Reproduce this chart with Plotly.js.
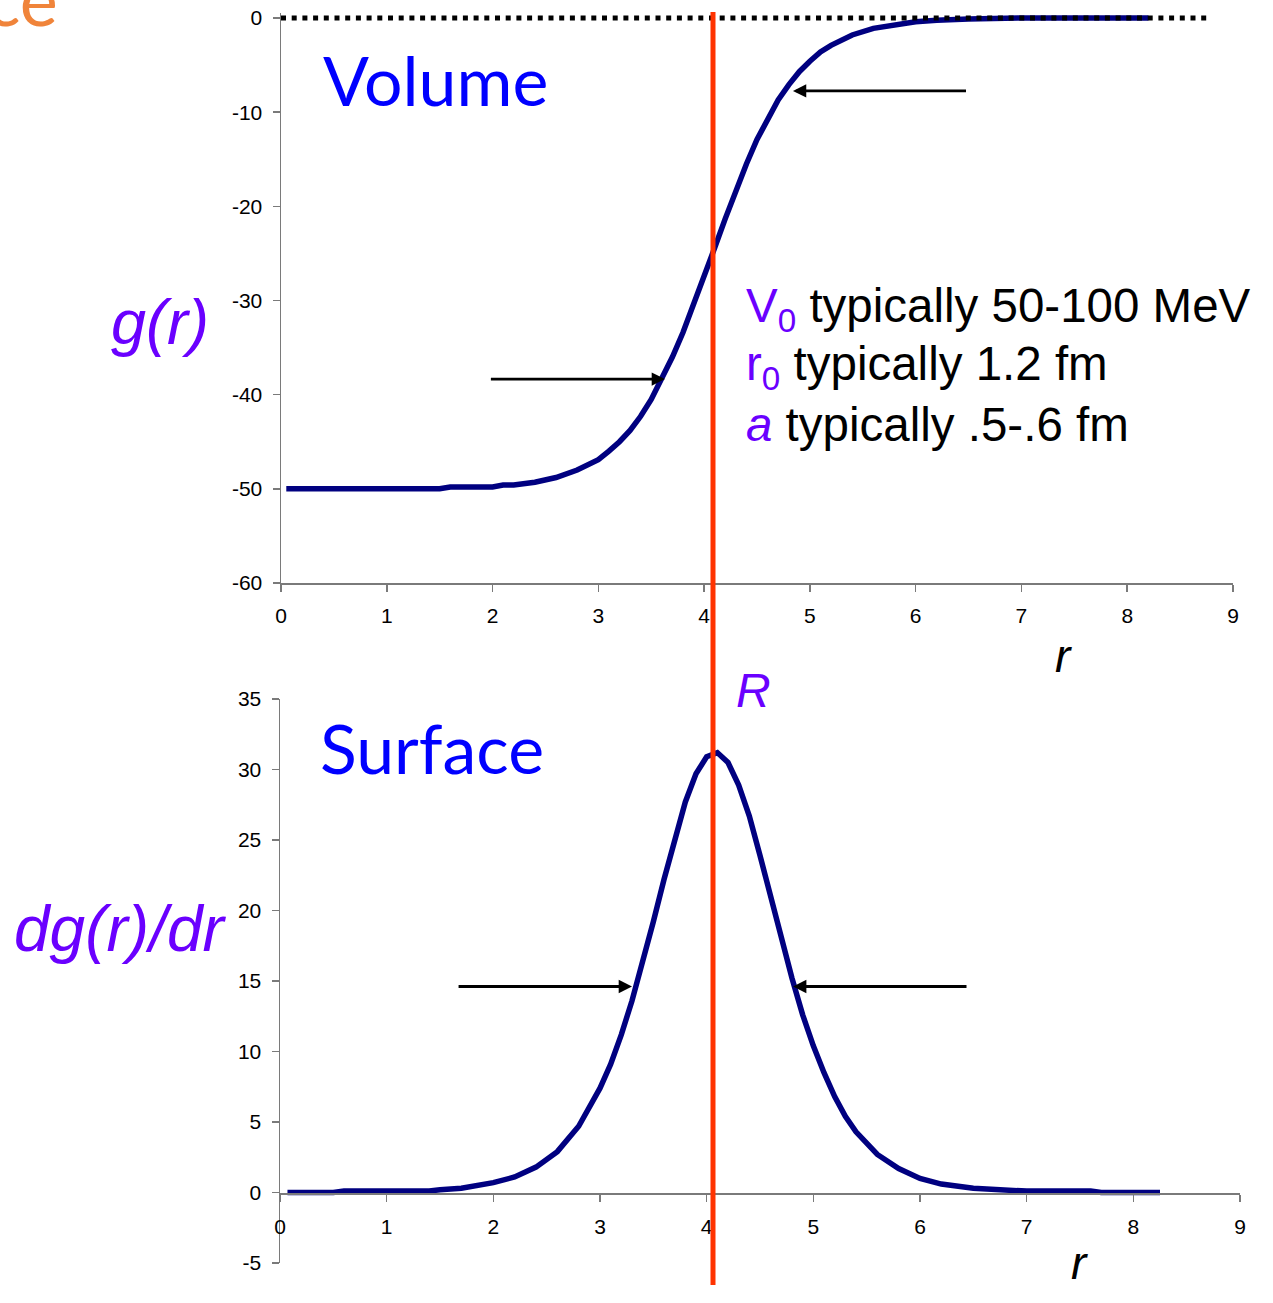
<!DOCTYPE html>
<html>
<head>
<meta charset="utf-8">
<script src="https://cdn.plot.ly/plotly-3.0.1.min.js"></script>
<style>html,body{margin:0;padding:0;background:#fff;}#chart{width:1273px;height:1303px;}</style>
</head>
<body>
<div id="chart"></div>
<script>
// ---- data ----
const rVolume = [0.05,0.5,1.0,1.5,1.6,2.0,2.1,2.2,2.4,2.6,2.8,3.0,3.1,3.2,3.3,3.4,3.5,3.6,3.7,3.8,3.9,4.0,4.1,4.2,4.3,4.4,4.5,4.6,4.7,4.8,4.9,5.0,5.1,5.2,5.4,5.6,5.8,6.0,6.2,6.5,7.0,7.5,8.2];
const gVolume = [-50,-50,-50,-50,-49.8,-49.8,-49.6,-49.6,-49.3,-48.8,-48.0,-46.9,-46.0,-45.0,-43.8,-42.3,-40.5,-38.4,-36.0,-33.4,-30.5,-27.5,-24.4,-21.3,-18.3,-15.5,-12.9,-10.7,-8.7,-7.1,-5.7,-4.6,-3.6,-2.9,-1.8,-1.1,-0.7,-0.4,-0.25,-0.1,0,0,0];
const rZeroLine = [0, 8.78];
const gZeroLine = [0, 0];

const rSurface = [0.07,0.5,0.6,1.0,1.4,1.5,1.7,2.0,2.2,2.4,2.6,2.8,3.0,3.1,3.2,3.3,3.4,3.5,3.6,3.7,3.8,3.9,4.0,4.1,4.2,4.3,4.4,4.5,4.6,4.7,4.8,4.9,5.0,5.1,5.2,5.3,5.4,5.6,5.8,6.0,6.2,6.5,6.7,7.0,7.6,7.7,8.25];
const dgSurface = [0,0,0.1,0.1,0.1,0.2,0.3,0.7,1.1,1.8,2.9,4.7,7.4,9.1,11.2,13.6,16.3,19.2,22.2,25.0,27.7,29.7,30.9,31.2,30.5,28.9,26.7,23.9,21.0,18.0,15.2,12.6,10.4,8.5,6.8,5.4,4.3,2.7,1.7,1.0,0.6,0.3,0.2,0.1,0.1,0,0];

const xTickVals = [0,1,2,3,4,5,6,7,8,9];
const xTickText = ['0','1','2','3','4','5','6','7','8','9'];
const yTopVals = [-60,-50,-40,-30,-20,-10,0];
const yTopText = ['-60','-50','-40','-30','-20','-10','0'];
const yBotVals = [-5,0,5,10,15,20,25,30,35];
const yBotText = ['-5','0','5','10','15','20','25','30','35'];

// arrow markers (head r, value, tail r)
const arrowsTop = [[4.84,-7.75,6.49],[3.63,-38.34,1.97]];
const arrowsBot = [[3.30,14.61,1.66],[4.81,14.61,6.45]];

// ---- layout helpers ----
const W = 1273, H = 1303;
const PX = x => x / W;
const PY = y => 1 - y / H;
const AX = 'Liberation Sans, Arial, sans-serif';
const CAL = 'Lato, Open Sans, sans-serif';
const PURPLE = '#6A00FF';
const NAVY = '#000080';
const AXC = '#7a7a7a';

const traces = [
  {x: rVolume, y: gVolume, xaxis:'x', yaxis:'y', mode:'lines', line:{color:NAVY, width:5.5}, hoverinfo:'skip'},
  {x: rZeroLine, y: gZeroLine, xaxis:'x', yaxis:'y', mode:'lines', line:{color:'#000', width:5, dash:'5px,5.7px'}, hoverinfo:'skip'},
  {x: rSurface, y: dgSurface, xaxis:'x2', yaxis:'y2', mode:'lines', line:{color:NAVY, width:5.5}, hoverinfo:'skip'}
];

const axCommon = {
  showgrid:false, zeroline:false, showline:true, linecolor:AXC, linewidth:1.5,
  ticks:'outside', ticklen:7, tickwidth:1.5, tickcolor:AXC,
  tickfont:{family:AX, size:21, color:'#000'}, fixedrange:true
};

const annotations = [];
function txt(text, x, y, size, color, family, xanchor, yanchor) {
  annotations.push({text:text, xref:'paper', yref:'paper', x:PX(x), y:PY(y),
    xanchor:xanchor||'center', yanchor:yanchor||'middle', showarrow:false,
    font:{family:family, size:size, color:color}});
}
txt('ce', -16, -2, 72, '#F0843A', CAL, 'left', 'middle');
txt('Volume', 321, 79, 68, '#0000FF', CAL, 'left', 'middle');
txt('Surface', 318, 747, 68, '#0000FF', CAL, 'left', 'middle');
txt('<i>g(r)</i>', 160, 322, 63, PURPLE, AX);
txt('<i>dg(r)/dr</i>', 121, 929, 64, PURPLE, AX);
txt('<i>R</i>', 753, 690, 48, PURPLE, AX);
txt('<i>r</i>', 1063, 656, 46, '#000', AX);
txt('<i>r</i>', 1079, 1263, 46, '#000', AX);
txt('<span style="color:'+PURPLE+'">V<sub>0</sub></span> typically 50-100 MeV', 744, 309, 47.5, '#000', AX, 'left', 'middle');
txt('<span style="color:'+PURPLE+'">r<sub>0</sub></span> typically 1.2 fm', 744, 367, 47.5, '#000', AX, 'left', 'middle');
txt('<span style="color:'+PURPLE+'"><i>a</i></span> typically .5-.6 fm', 744, 424, 47.5, '#000', AX, 'left', 'middle');

function arrow(a, xr, yr) {
  annotations.push({text:'', xref:xr, yref:yr, x:a[0], y:a[1], axref:xr, ayref:yr, ax:a[2], ay:a[1],
    showarrow:true, arrowhead:2, arrowsize:0.95, arrowwidth:2.8, arrowcolor:'#000', standoff:0});
}
arrowsTop.forEach(a => arrow(a, 'x', 'y'));
arrowsBot.forEach(a => arrow(a, 'x2', 'y2'));

const layout = {
  width:W, height:H, margin:{l:0,r:0,t:0,b:0}, paper_bgcolor:'#fff', plot_bgcolor:'rgba(0,0,0,0)',
  showlegend:false,
  xaxis: Object.assign({}, axCommon, {domain:[PX(281), PX(1233)], range:[0,9], anchor:'y',
    tickvals:xTickVals, ticktext:xTickText, ticklabelstandoff:6}),
  yaxis: Object.assign({}, axCommon, {domain:[PY(583), PY(13)], range:[-60,0.53], anchor:'x',
    tickvals:yTopVals, ticktext:yTopText, ticklabelstandoff:6}),
  xaxis2: Object.assign({}, axCommon, {domain:[PX(280), PX(1240)], range:[0,9], anchor:'free', position:PY(1193),
    tickvals:xTickVals, ticktext:xTickText, ticklabelstandoff:7}),
  yaxis2: Object.assign({}, axCommon, {domain:[PY(1263), PY(699)], range:[-5,35], anchor:'x2',
    tickvals:yBotVals, ticktext:yBotText, ticklabelstandoff:6}),
  shapes:[{type:'line', xref:'paper', yref:'paper', x0:PX(713), x1:PX(713), y0:PY(1285), y1:PY(12),
    line:{color:'#FF3300', width:5}, layer:'above'}],
  annotations: annotations
};

Plotly.newPlot('chart', traces, layout, {displayModeBar:false, staticPlot:true});
</script>
</body>
</html>
